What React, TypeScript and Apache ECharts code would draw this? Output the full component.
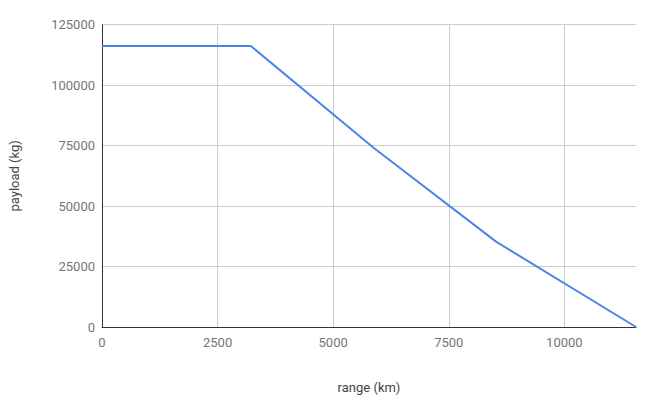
import React, { useEffect, useRef } from "react";
import * as echarts from "echarts";

const rangeKm = [0, 3220, 5880, 8530, 11550];
const payloadKg = [116200, 116200, 74000, 35200, 0];
const xTicks = [0, 2500, 5000, 7500, 10000];
const yTicks = [0, 25000, 50000, 75000, 100000, 125000];

export default function App() {
  const ref = useRef<HTMLDivElement>(null);
  useEffect(() => {
    if (!ref.current) return;
    const chart = echarts.init(ref.current, null, { renderer: "svg" });
    const font = "Roboto, Arial, sans-serif";
    chart.setOption({
      animation: false,
      textStyle: { fontFamily: font },
      grid: { left: 99, right: 18, top: 24.7, bottom: 79, containLabel: false },
      xAxis: {
        type: "value",
        min: 0,
        max: rangeKm[rangeKm.length - 1],
        interval: 2500,
        name: "range (km)",
        nameLocation: "middle",
        nameGap: 54,
        nameTextStyle: { color: "#444", fontSize: 13, fontFamily: font },
        axisLine: { show: true, lineStyle: { color: "#333", width: 1 } },
        axisTick: { show: false },
        axisLabel: {
          color: "#757575",
          fontSize: 13,
          fontFamily: font,
          margin: 9,
          formatter: (v: number) => (xTicks.includes(v) ? String(v) : ""),
        },
        splitLine: { show: true, showMaxLine: false, lineStyle: { color: "#ccc", width: 1 } },
      },
      yAxis: {
        type: "value",
        min: 0,
        max: yTicks[yTicks.length - 1],
        interval: 25000,
        name: "payload (kg)",
        nameLocation: "middle",
        nameGap: 81,
        nameTextStyle: { color: "#444", fontSize: 13, fontFamily: font },
        axisLine: { show: true, lineStyle: { color: "#333", width: 1 } },
        axisTick: { show: false },
        axisLabel: {
          color: "#757575",
          fontSize: 13,
          fontFamily: font,
          margin: 7,
          formatter: (v: number) => String(v),
        },
        splitLine: { show: true, lineStyle: { color: "#ccc", width: 1 } },
      },
      series: [
        {
          type: "line",
          data: rangeKm.map((x, i) => [x, payloadKg[i]]),
          showSymbol: false,
          symbol: "none",
          lineStyle: { color: "#4a86e8", width: 2 },
          z: 3,
        },
      ],
    });
    return () => chart.dispose();
  }, []);
  return <div ref={ref} style={{ width: 654, height: 406, position: "absolute", left: 0, top: 0 }} />;
}
